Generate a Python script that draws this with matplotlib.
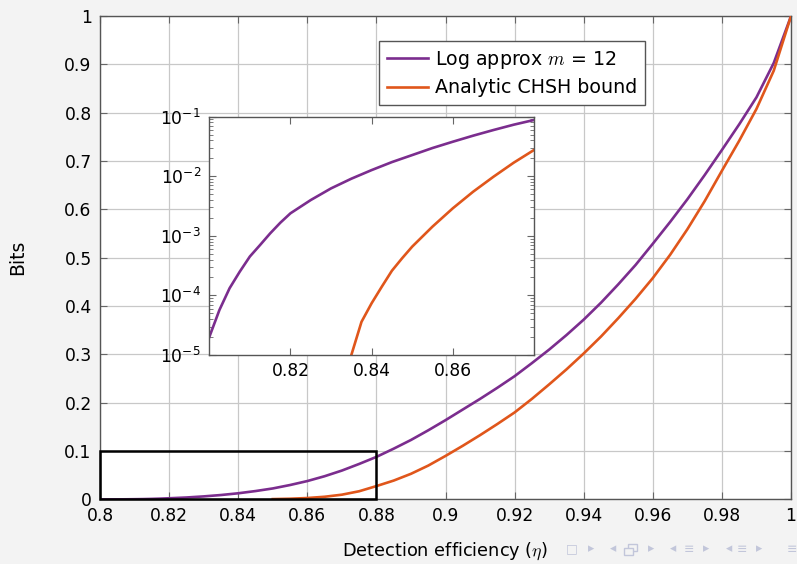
import matplotlib
matplotlib.use("Agg")
import matplotlib.pyplot as plt
import numpy as np
from matplotlib.patches import Rectangle
from matplotlib.ticker import LogLocator, NullFormatter

plt.rcParams['font.family'] = ['DejaVu Sans', 'Noto Sans', 'Noto Sans CJK JP']
plt.rcParams['mathtext.fontset'] = 'cm'

# ---- data ----
eta_log = [0.800, 0.8025, 0.805, 0.8075, 0.810, 0.8125, 0.815, 0.8175, 0.820, 0.825,
           0.830, 0.835, 0.840, 0.845, 0.850, 0.855, 0.860, 0.865, 0.870, 0.875,
           0.880, 0.885, 0.890, 0.895, 0.900, 0.905, 0.910, 0.915, 0.920, 0.925,
           0.930, 0.935, 0.940, 0.945, 0.950, 0.955, 0.960, 0.965, 0.970, 0.975,
           0.980, 0.985, 0.990, 0.995, 1.000]
bits_log = [2.0e-5, 5.7e-5, 1.32e-4, 2.5e-4, 4.5e-4, 7.0e-4, 1.10e-3, 1.66e-3, 2.39e-3, 3.99e-3,
            6.26e-3, 9.1e-3, 1.27e-2, 1.73e-2, 2.27e-2, 2.98e-2, 3.8e-2, 4.8e-2, 5.97e-2, 7.34e-2,
            0.088, 0.105, 0.123, 0.143, 0.164, 0.186, 0.208, 0.231, 0.255, 0.282,
            0.310, 0.340, 0.372, 0.407, 0.445, 0.485, 0.529, 0.574, 0.621, 0.671,
            0.723, 0.776, 0.832, 0.903, 1.000]

eta_chsh = [0.835, 0.836, 0.8375, 0.840, 0.8425, 0.845, 0.8475, 0.850, 0.855, 0.860,
            0.865, 0.870, 0.875, 0.880, 0.885, 0.890, 0.895, 0.900, 0.905, 0.910,
            0.915, 0.920, 0.925, 0.930, 0.935, 0.940, 0.945, 0.950, 0.955, 0.960,
            0.965, 0.970, 0.975, 0.980, 0.985, 0.990, 0.995, 1.000]
bits_chsh = [1.0e-5, 1.67e-5, 3.6e-5, 7.4e-5, 1.40e-4, 2.6e-4, 4.2e-4, 6.6e-4, 1.43e-3, 2.9e-3,
             5.5e-3, 9.8e-3, 1.69e-2, 2.76e-2, 0.039, 0.053, 0.070, 0.090, 0.111, 0.133,
             0.156, 0.180, 0.208, 0.238, 0.269, 0.302, 0.337, 0.375, 0.415, 0.458,
             0.506, 0.559, 0.617, 0.680, 0.742, 0.808, 0.887, 1.000]

x_ticks = [0.8, 0.82, 0.84, 0.86, 0.88, 0.9, 0.92, 0.94, 0.96, 0.98, 1.0]
x_ticklabels = ['0.8', '0.82', '0.84', '0.86', '0.88', '0.9', '0.92', '0.94', '0.96', '0.98', '1']
y_ticks = [0, 0.1, 0.2, 0.3, 0.4, 0.5, 0.6, 0.7, 0.8, 0.9, 1.0]
y_ticklabels = ['0', '0.1', '0.2', '0.3', '0.4', '0.5', '0.6', '0.7', '0.8', '0.9', '1']
inset_xticks = [0.82, 0.84, 0.86]
inset_xticklabels = ['0.82', '0.84', '0.86']
inset_yticks = [1e-5, 1e-4, 1e-3, 1e-2, 1e-1]

# beamer navigation symbols (None = drawn as the two-window shape, no font has ⧉)
nav_symbols = ['□', '▸', '◂', None, '▸', '◂', '≡', '▸', '◂', '≡', '▸', '≡']
nav_x = [572, 591, 613, 631, 651, 673, 689, 706, 729, 742, 759, 792]

PURPLE = '#7b2d8e'
ORANGE = '#e0561b'
BG = '#f3f3f3'
NAV = '#c2c6da'

fig = plt.figure(figsize=(7.97, 5.64), dpi=100, facecolor=BG)
ax = fig.add_axes([0.1255, 0.1145, 0.867, 0.857])
ax.set_facecolor('white')

eta_log_a = np.array(eta_log); bits_log_a = np.array(bits_log)
eta_chsh_a = np.array(eta_chsh); bits_chsh_a = np.array(bits_chsh)
main_mask = eta_chsh_a >= 0.85

ax.plot(eta_log_a, bits_log_a, color=PURPLE, lw=1.9, label='Log approx $m$ = 12', zorder=3)
ax.plot(eta_chsh_a[main_mask], bits_chsh_a[main_mask], color=ORANGE, lw=1.9,
        label='Analytic CHSH bound', zorder=3)

ax.set_xlim(0.8, 1.0)
ax.set_ylim(0, 1)
ax.set_xticks(x_ticks)
ax.set_xticklabels(x_ticklabels)
ax.set_yticks(y_ticks)
ax.set_yticklabels(y_ticklabels)
ax.grid(True, color='#c8c8c8', lw=0.9)
ax.set_axisbelow(True)
ax.tick_params(direction='in', length=5, width=0.8, color='#666666', top=True, right=True,
               labelsize=12.3)
ax.tick_params(axis='x', pad=5.5)
ax.tick_params(axis='y', pad=6)
for s in ax.spines.values():
    s.set_color('#555555'); s.set_linewidth(1.0)
ax.set_xlabel(r'Detection efficiency ($\eta$)', fontsize=12.8, labelpad=11)
ax.set_ylabel('Bits', fontsize=13.5, labelpad=27)

ax.add_patch(Rectangle((0.8, 0.0), 0.08, 0.1, fill=False, edgecolor='black', lw=1.8,
                       zorder=4, clip_on=False))

leg = ax.legend(loc='upper left', bbox_to_anchor=(0.4038, 0.948), borderaxespad=0,
                fontsize=13.7, frameon=True, fancybox=False, edgecolor='#555555',
                framealpha=1, handlelength=2.15, borderpad=0.4, labelspacing=0.4,
                handletextpad=0.4)
leg.get_frame().set_linewidth(1.0)

# ---- inset ----
ins = fig.add_axes([0.2626, 0.3706, 0.4074, 0.4225])
ins.set_facecolor('white')
ins.plot(eta_log_a, bits_log_a, color=PURPLE, lw=1.9)
ins.plot(eta_chsh_a, bits_chsh_a, color=ORANGE, lw=1.9)
ins.set_yscale('log')
ins.set_xlim(0.80, 0.88)
ins.set_ylim(1e-5, 1e-1)
ins.set_xticks(inset_xticks)
ins.set_xticklabels(inset_xticklabels)
ins.set_yticks(inset_yticks)
ins.yaxis.set_minor_locator(LogLocator(base=10, subs=np.arange(2, 10), numticks=20))
ins.yaxis.set_minor_formatter(NullFormatter())
ins.tick_params(which='both', direction='in', top=True, right=True, color='#666666',
                labelsize=12.3)
ins.tick_params(axis='x', pad=5)
ins.tick_params(axis='y', pad=6)
ins.tick_params(which='major', length=5, width=0.8)
ins.tick_params(which='minor', length=3, width=0.6)
for s in ins.spines.values():
    s.set_color('#555555'); s.set_linewidth(1.0)

# beamer navigation symbols
W, H = 797.0, 564.0
for sym, px in zip(nav_symbols, nav_x):
    if sym is None:
        for dx, dy in [(2, -2), (-2, 2)]:
            fig.patches.append(Rectangle(((px - 5 + dx) / W, 1 - (549 + 4 + dy) / H),
                                         9 / W, 7 / H, transform=fig.transFigure,
                                         facecolor=BG, edgecolor=NAV, lw=1.0))
    else:
        fig.text(px / W, 1 - 549 / H, sym, fontsize=9, color=NAV,
                 ha='center', va='center')

fig.savefig('out.png', dpi=100, facecolor=BG)
